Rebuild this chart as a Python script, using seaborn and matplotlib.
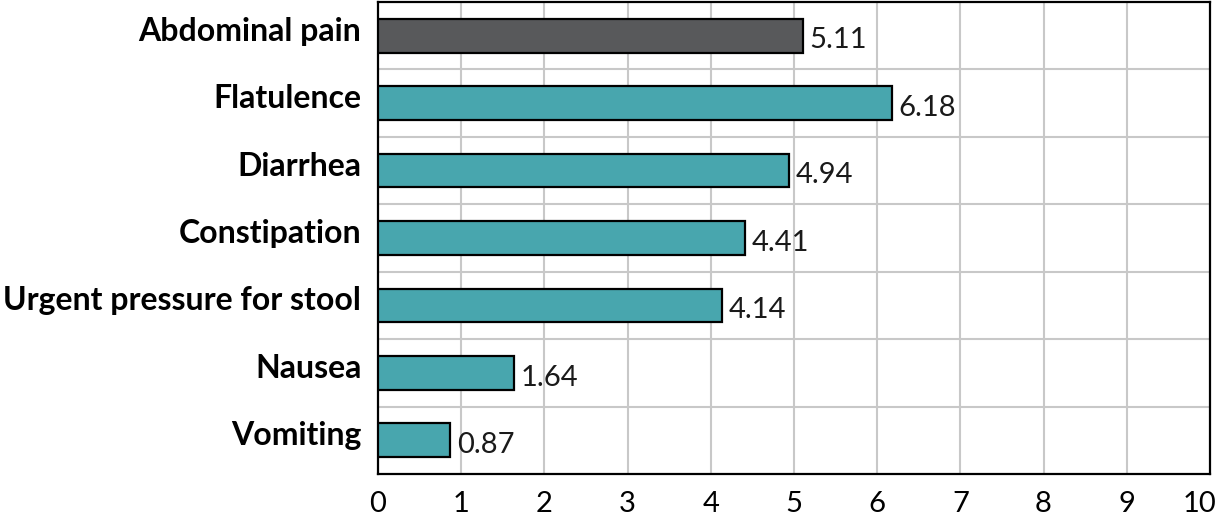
import matplotlib
matplotlib.use("Agg")
import matplotlib.pyplot as plt
import matplotlib.transforms as mtransforms
import seaborn as sns
import pandas as pd

# values
symptoms = ['Abdominal pain', 'Flatulence', 'Diarrhea', 'Constipation',
            'Urgent pressure for stool', 'Nausea', 'Vomiting']
scores = [5.11, 6.18, 4.94, 4.41, 4.14, 1.64, 0.87]
groups = ['total', 'item', 'item', 'item', 'item', 'item', 'item']

df = pd.DataFrame({'symptom': symptoms, 'score': scores, 'group': groups})
palette = {'total': '#58595b', 'item': '#48a6ae'}

sns.set_style('white')
plt.rcParams['font.family'] = ['Lato', 'DejaVu Sans']

fig = plt.figure(figsize=(12.18, 5.18), dpi=100)
ax = fig.add_axes([0.3103, 0.0849, 0.6831, 0.9112])

sns.barplot(data=df, y='symptom', x='score', hue='group', palette=palette,
            order=symptoms, dodge=False, width=0.5, edgecolor='black',
            linewidth=1.6, saturation=1, legend=False, ax=ax, zorder=3)

ax.set_xlim(0, 10)
ax.set_ylim(len(symptoms) - 0.5, -0.5)
ax.set_xticks(range(11))
ax.set_xticklabels([str(i) for i in range(11)], fontsize=21, color='black')
ax.get_xticklabels()[-1].set_horizontalalignment('right')
ax.set_yticks(range(len(symptoms)))
ax.set_yticklabels(symptoms, fontsize=23, fontweight='bold', color='black')
ax.tick_params(axis='both', length=0)
ax.tick_params(axis='x', pad=12)
ax.tick_params(axis='y', pad=12)

# category labels sit a bit above the bar centres in the original
shift = mtransforms.ScaledTranslation(0, 0.07, fig.dpi_scale_trans)
for lab in ax.get_yticklabels():
    lab.set_transform(lab.get_transform() + shift)
last = ax.get_xticklabels()[-1]
last.set_transform(last.get_transform() +
                   mtransforms.ScaledTranslation(0.06, 0, fig.dpi_scale_trans))

# grid: vertical lines at integers, horizontal lines between categories
for v in range(1, 10):
    ax.axvline(v, color='#c8c8c8', lw=1.5, zorder=1)
for k in range(len(symptoms) - 1):
    ax.axhline(k + 0.5, color='#c8c8c8', lw=1.5, zorder=1)

for s in ax.spines.values():
    s.set_visible(True)
    s.set_color('black')
    s.set_linewidth(1.6)

for i, v in enumerate(scores):
    ax.text(v + 0.08, i + 0.07, f'{v:.2f}', va='center', ha='left',
            fontsize=21, color='#1a1a1a')

ax.set_xlabel('')
ax.set_ylabel('')
fig.savefig('out.png', dpi=100)
